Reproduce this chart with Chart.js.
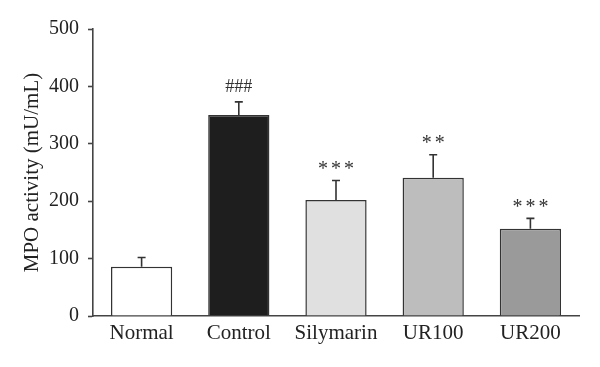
<!DOCTYPE html>
<html>
<head>
<meta charset="utf-8">
<script src="https://cdn.jsdelivr.net/npm/chart.js@4"></script>
<style>
html,body{margin:0;padding:0;background:#fff;}
#wrap{width:600px;height:367px;position:relative;}
</style>
</head>
<body>
<div id="wrap"><canvas id="c" width="600" height="367"></canvas></div>
<script>
const categories = ["Normal", "Control", "Silymarin", "UR100", "UR200"];
const values = [86, 350, 202, 241, 152];
const errors = [16, 23, 34, 40, 18];
const marks = ["", "###", "***", "**", "***"];
const barColors = ["#ffffff", "#1e1e1e", "#e0e0e0", "#bdbdbd", "#9a9a9a"];
const yTicks = [0, 100, 200, 300, 400, 500];
const yTitle = "MPO activity (mU/mL)";

const FONT = "'Liberation Serif', 'DejaVu Serif', serif";
const INK = "#333333";

const extrasPlugin = {
  id: "extras",
  afterDatasetsDraw(chart) {
    const ctx = chart.ctx;
    const meta = chart.getDatasetMeta(0);
    const y = chart.scales.y;
    ctx.save();
    ctx.strokeStyle = INK;
    ctx.lineWidth = 1.6;
    meta.data.forEach((bar, i) => {
      const x = bar.x;
      const top = y.getPixelForValue(values[i]);
      const et = y.getPixelForValue(values[i] + errors[i]);
      ctx.beginPath();
      ctx.moveTo(x, top);
      ctx.lineTo(x, et);
      ctx.moveTo(x - 4, et);
      ctx.lineTo(x + 4, et);
      ctx.stroke();
      if (marks[i]) {
        ctx.fillStyle = INK;
        ctx.textAlign = "center";
        ctx.textBaseline = "bottom";
        if (marks[i].startsWith("#")) {
          ctx.font = "18px " + FONT;
          ctx.fillText(marks[i], x, et - 6);
        } else {
          ctx.font = "20px " + FONT;
          const chars = marks[i].split("");
          const gap = 13;
          const start = x - gap * (chars.length - 1) / 2;
          chars.forEach((ch, k) => ctx.fillText(ch, start + k * gap, et - 1));
        }
      }
    });
    ctx.restore();
  }
};

new Chart(document.getElementById("c"), {
  type: "bar",
  data: {
    labels: categories,
    datasets: [{
      data: values,
      backgroundColor: barColors,
      borderColor: INK,
      borderWidth: 1.5,
      borderSkipped: "bottom",
      barPercentage: 0.63,
      categoryPercentage: 1.0
    }]
  },
  options: {
    responsive: false,
    animation: false,
    devicePixelRatio: 1,
    layout: { padding: { top: 29, right: 21, left: 0, bottom: 0 } },
    plugins: { legend: { display: false }, tooltip: { enabled: false } },
    scales: {
      x: {
        grid: { display: true, drawOnChartArea: false, drawTicks: false },
        border: { color: "#444", width: 1.6 },
        ticks: { color: "#222", font: { family: FONT, size: 21 }, padding: 5 },
        afterFit(s) { s.height = 51; }
      },
      y: {
        min: 0, max: 500,
        afterBuildTicks(s) { s.ticks = yTicks.map(v => ({ value: v })); },
        grid: { display: true, drawOnChartArea: false, drawTicks: true, tickLength: 5, color: "#444", tickWidth: 1.6 },
        border: { color: "#444", width: 1.6 },
        ticks: { color: "#222", font: { family: FONT, size: 20 }, padding: 9 },
        title: { display: true, text: yTitle, color: "#222", font: { family: FONT, size: 21 }, padding: { top: 20, bottom: 0 } },
        afterFit(s) { s.width = 93; }
      }
    }
  },
  plugins: [extrasPlugin]
});
</script>
</body>
</html>
